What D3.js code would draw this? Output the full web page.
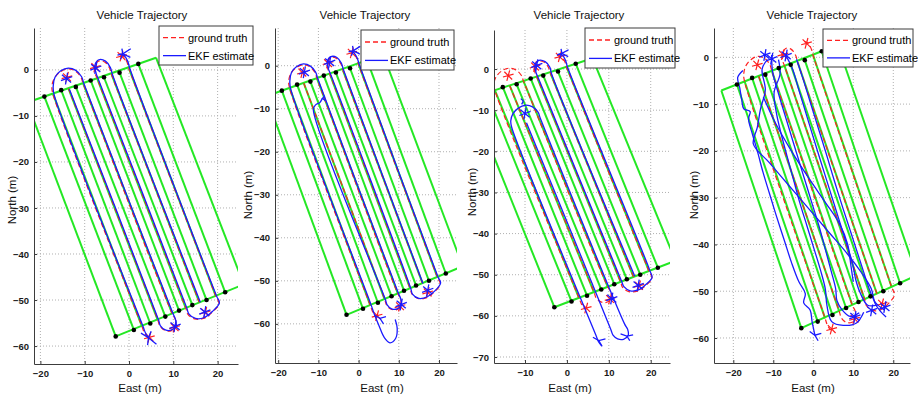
<!DOCTYPE html>
<html>
<head>
<meta charset="utf-8">
<title>Vehicle Trajectory</title>
<script src="https://cdn.jsdelivr.net/npm/d3@7"></script>
<style>
  body { margin: 0; background: #fff; }
  svg { display: block; font-family: "Liberation Sans", Arial, sans-serif; }
</style>
</head>
<body>
<svg id="chart" width="918" height="399"></svg>
<script>
// ---- data (East, North in metres) ----

const eastTicks = [-20, -10, 0, 10, 20];
const northTicks = [0, -10, -20, -30, -40, -50, -60, -70];

// headlands and field edges [E1, N1, E2, N2]
const fieldEdges = [
  [-23.0, -7.1, 6.1, 2.64],
  [-3.0, -57.9, 25.9, -46.6],
  [-23.0, -7.1, -3.0, -57.9],
  [6.1, 2.64, 25.9, -46.6]
];

// crop rows [E_top, N_top, E_bottom, N_bottom]
const rowLines = [
  [-19.1, -5.8, 1.1, -56.5],
  [-17.2, -5.1, 2.95, -55.8],
  [-15.3, -4.4, 4.8, -55.1],
  [-13.65, -4.05, 6.5, -54.35],
  [-12.0, -3.7, 8.2, -53.6],
  [-10.33, -3.0, 9.75, -52.95],
  [-8.65, -2.3, 11.3, -52.3],
  [-7.15, -1.95, 12.8, -51.7],
  [-5.65, -1.6, 14.3, -51.1],
  [-3.89, -1.1, 15.9, -50.55],
  [-2.13, -0.6, 17.5, -50.0],
  [-0.02, 0.35, 19.6, -49.15],
  [2.1, 1.3, 21.7, -48.3]
];

const topDots = [[-19.1, -5.8], [-15.3, -4.4], [-12.0, -3.7], [-8.65, -2.3], [-5.65, -1.6], [-2.13, -0.6], [2.1, 1.3]];
const bottomDots = [[-3.0, -57.9], [1.1, -56.5], [4.8, -55.1], [8.2, -53.6], [11.3, -52.3], [14.3, -51.1], [17.5, -50.0], [21.7, -48.3]];

// ground truth path (same run in all four plots)
const truthA = [
  [-13.65, -4.05], [6.5, -54.35], [7.0, -55.7], [8.1, -56.6], [9.5, -56.7], [10.6, -55.8], [10.5, -54.3],
  [9.75, -52.95], [-10.33, -3.0], [-10.9, -1.5], [-12.2, -0.2], [-13.9, 0.2], [-15.6, -0.5], [-16.9, -1.9],
  [-17.4, -3.6], [-17.2, -5.1], [2.95, -55.8], [3.5, -57.2], [4.3, -58.3]
];
const truthB = [
  [15.9, -50.55], [-3.89, -1.1], [-4.4, 0.4], [-5.5, 1.7], [-6.9, 1.9], [-7.8, 0.7], [-7.6, -0.9],
  [-7.15, -1.95], [12.8, -51.7], [13.3, -53.1], [14.8, -54.1], [16.8, -54.0], [18.7, -52.7], [20.3, -50.8],
  [19.6, -49.15], [-0.02, 0.35], [-0.5, 1.8], [-1.3, 3.0], [-2.3, 3.4]
];
const truthStars = [[-14.0, -1.6], [-7.6, 0.6], [-1.7, 3.0], [4.6, -58.1], [10.3, -55.9], [17.2, -52.7]];

// EKF estimate, plot 1
const ekf1A = [
  [-13.45, -4.2], [6.65, -54.3], [7.1, -55.6], [8.2, -56.5], [9.6, -56.5], [10.6, -55.6], [10.45, -54.1],
  [9.9, -52.9], [-10.15, -3.05], [-10.7, -1.5], [-12.0, -0.1], [-13.7, 0.4], [-15.4, -0.2], [-16.7, -1.6],
  [-17.1, -3.5], [-16.95, -5.2], [3.15, -55.7], [3.7, -57.1], [4.4, -58.2]
];
const ekf1B = [
  [16.1, -50.5], [-3.7, -1.1], [-4.2, 0.5], [-5.3, 1.9], [-6.8, 2.2], [-7.7, 1.0], [-7.4, -0.8],
  [-6.95, -1.95], [13.0, -51.6], [13.5, -53.0], [15.0, -54.0], [17.0, -53.8], [18.8, -52.5], [20.4, -50.6],
  [19.75, -49.1], [0.15, 0.4], [-0.3, 1.9], [-1.1, 3.1], [-2.1, 3.5]
];
const ekf1Stars = [[-14.1, -1.9], [-7.5, 0.4], [10.4, -55.7], [17.1, -52.6]];
const ekf1Tails = [
  [[-2.6, 3.2], [-1.4, 3.5], [0.4, 4.6]], [[-1.4, 3.5], [0.3, 2.7]], [[-1.6, 4.6], [-1.4, 3.5], [-1.9, 2.3]],
  [[2.7, -57.2], [4.4, -58.2], [6.2, -59.6]], [[4.4, -58.2], [5.0, -56.8]], [[4.4, -58.2], [4.2, -59.8]]
];

// EKF estimate, plot 2
const ekf2A = [
  [-9.0, -7.6], [-9.7, -8.6], [-10.7, -9.1], [-11.25, -10.2], [6.65, -54.3], [7.1, -55.6], [8.2, -56.5],
  [9.6, -56.5], [10.6, -55.6], [10.45, -54.1], [9.9, -52.9], [-10.15, -3.05], [-10.7, -1.5], [-12.0, -0.1],
  [-13.7, 0.4], [-15.4, -0.2], [-16.7, -1.6], [-17.1, -3.5], [-16.95, -5.2], [3.15, -55.7], [3.8, -57.5],
  [5.1, -60.5], [6.4, -63.2], [7.8, -64.4], [9.2, -63.4], [9.6, -61.0], [9.1, -59.0]
];
const ekf2B = [
  [16.0, -50.6], [-3.75, -1.0], [-4.3, 0.6], [-5.4, 1.9], [-6.9, 2.1], [-7.8, 0.9], [-7.5, -0.8],
  [-7.0, -1.9], [12.95, -51.7], [13.4, -53.1], [15.0, -54.1], [17.1, -53.7], [18.9, -52.4], [20.4, -50.5],
  [19.7, -49.0], [0.1, 0.45], [-0.4, 1.9], [-1.2, 3.0], [-2.2, 3.4]
];
const ekf2Stars = [[-13.5, -1.5], [-7.2, 0.8], [10.6, -55.5], [17.2, -52.2]];
const ekf2Tails = [
  [[-2.5, 3.2], [-1.3, 3.5], [0.4, 4.5]], [[-1.3, 3.5], [0.3, 2.7]], [[-1.5, 4.6], [-1.3, 3.5], [-1.8, 2.3]],
  [[4.0, -58.0], [5.3, -58.7], [6.8, -58.3]], [[5.3, -58.7], [6.2, -60.0]],
  [[-8.4, -7.0], [-9.0, -7.6], [-8.3, -8.1]]
];

// EKF estimate, plot 3
const ekf3A = [
  [-9.65, -13.05], [10.5, -63.35], [11.0, -64.7], [12.1, -65.6], [13.5, -65.7], [14.6, -64.8], [14.5, -63.3],
  [13.75, -61.95], [-6.33, -12.0], [-6.9, -10.5], [-8.2, -9.2], [-9.9, -8.8], [-11.6, -9.5], [-12.9, -10.9],
  [-13.4, -12.6], [-13.2, -14.1], [6.95, -64.8], [7.5, -66.2], [8.3, -67.3]
];
const ekf3B = [
  [16.2, -50.4], [-3.65, -1.2], [-4.1, 0.5], [-5.2, 1.8], [-6.7, 2.1], [-7.6, 0.9], [-7.35, -0.9],
  [-6.9, -2.0], [13.05, -51.6], [13.6, -52.9], [15.1, -53.9], [17.0, -53.7], [18.8, -52.4], [20.3, -50.7],
  [19.8, -49.0], [0.2, 0.3], [-0.3, 2.0], [-1.0, 3.3], [-2.0, 3.7]
];
const ekf3Stars = [[-10.0, -10.8], [-7.2, 0.9], [10.7, -55.8], [17.0, -52.6]];
const ekf3Tails = [
  [[-2.4, 3.4], [-1.2, 3.8], [0.4, 4.7]], [[-1.2, 3.8], [0.3, 3.0]], [[-1.4, 4.9], [-1.2, 3.8], [-1.7, 2.6]],
  [[6.2, -65.2], [7.6, -66.0], [9.2, -65.6]], [[7.6, -66.0], [8.4, -67.4]],
  [[12.8, -64.4], [14.3, -64.9], [15.8, -64.6]], [[14.3, -64.9], [15.0, -66.0]],
  [[-11.0, -7.2], [-10.4, -7.8], [-10.8, -8.6]]
];

// EKF estimate, plot 4 (diverging filter)
const ekf4S1 = [
  [-17.6, -2.8], [-18.9, -4.3], [-18.4, -6.5], [-17.9, -9.0], [-17.4, -11.0], [-15.8, -11.6], [-16.2, -13.2],
  [-15.2, -16.5], [-14.0, -20.0], [-12.6, -24.5], [-11.0, -29.0], [-9.2, -34.0], [-7.3, -39.0], [-5.4, -44.0],
  [-3.6, -48.0], [-2.0, -50.5], [-2.4, -52.5], [-0.8, -54.0], [-0.3, -56.5], [0.4, -59.4]
];
const ekf4S2 = [
  [-11.5, -0.5], [-12.8, -2.5], [-12.0, -7.0], [-13.2, -11.0], [-14.0, -15.0], [-15.0, -18.5], [-11.0, -22.5],
  [-6.0, -27.5], [-1.0, -32.5], [4.0, -37.5], [8.5, -42.0], [12.0, -46.0], [14.5, -49.5], [15.4, -52.5],
  [16.8, -54.3], [18.2, -55.5]
];
const ekf4S3 = [
  [-10.4, 0.5], [-10.2, -3.0], [-8.8, -7.5], [-7.2, -12.0], [-5.6, -16.5], [-4.0, -21.0], [-2.2, -26.0],
  [-0.4, -31.0], [1.4, -36.0], [3.0, -41.0], [4.4, -45.5], [5.6, -49.5], [5.9, -52.0], [7.2, -54.0],
  [9.2, -55.4], [11.5, -54.6]
];
const ekf4S4 = [
  [-8.7, -0.5], [-8.3, -3.5], [-9.8, -7.5], [-9.2, -12.0], [-8.0, -16.5], [-6.6, -21.0], [-5.0, -26.0],
  [-3.4, -31.0], [-1.6, -36.0], [0.2, -41.0], [1.8, -45.5], [3.0, -49.5], [3.4, -53.0], [4.6, -56.5],
  [7.5, -57.3], [10.8, -56.8], [12.6, -54.5]
];
const ekf4S5 = [
  [-6.8, 0.3], [-5.2, -2.5], [-3.6, -7.0], [-2.0, -11.5], [-0.4, -16.0], [1.4, -21.0], [3.6, -27.0],
  [5.8, -33.0], [8.0, -39.0], [9.8, -44.0], [10.6, -47.5], [11.8, -50.5], [13.6, -53.0], [16.0, -53.0]
];
const ekf4S6 = [
  [-4.2, -0.4], [-2.6, -4.5], [-0.8, -9.5], [1.2, -15.0], [3.2, -20.5], [5.3, -26.5], [7.5, -32.5],
  [9.6, -38.0], [11.5, -43.0], [13.0, -47.0], [14.2, -50.0], [15.6, -52.5], [17.8, -54.0]
];
const ekf4S7 = [
  [-12.5, -8.5], [-9.5, -14.0], [-5.5, -20.0], [-1.0, -26.0], [3.0, -31.0], [6.5, -35.5], [8.6, -40.0],
  [9.4, -44.5], [10.0, -48.0]
];
const ekf4Stars = [[-12.1, 0.5], [-10.4, -0.3], [-6.8, 0.4], [10.4, -55.5], [14.6, -54.1], [17.9, -53.4]];
const ekf4Tails = [
  [[-0.9, -58.6], [0.4, -59.4], [2.0, -59.0]], [[0.4, -59.4], [1.2, -60.6]]
];

// ---- layout of the four plots (pixels) ----
const panels = [
  { left: 34, right: 238, top: 28, bottom: 364, east: [-21.44, 24.6], north: [-63.9, 9.1],
    titleX: 142, northX: 12, northY: 200, eastX: 140,
    legend: { x: 159, y: 26, w: 94, h: 39 },
    ekf: [ekf1A, ekf1B], stars: ekf1Stars, tails: ekf1Tails },
  { left: 275, right: 457, top: 28, bottom: 363, east: [-20.8, 24.48], north: [-69.1, 8.76],
    titleX: 365, northX: 248, northY: 195, eastX: 382,
    legend: { x: 361, y: 30, w: 93, h: 40 },
    ekf: [ekf2A, ekf2B], stars: ekf2Stars, tails: ekf2Tails },
  { left: 494, right: 670, top: 30, bottom: 363, east: [-17.4, 24.6], north: [-71.46, 9.49],
    titleX: 579, northX: 472, northY: 192, eastX: 570,
    legend: { x: 585, y: 28, w: 90, h: 40 },
    ekf: [ekf3A, ekf3B], stars: ekf3Stars, tails: ekf3Tails },
  { left: 714, right: 910, top: 28, bottom: 363, east: [-24.83, 24.18], north: [-65.35, 6.27],
    titleX: 812, northX: 694, northY: 195, eastX: 813,
    legend: { x: 823, y: 29, w: 90, h: 38 },
    ekf: [ekf4S1, ekf4S2, ekf4S3, ekf4S4, ekf4S5, ekf4S6, ekf4S7], stars: ekf4Stars, tails: ekf4Tails }
];

const GREEN = '#24e824', BLUE = '#1a1aff', RED = '#ff2020', AXIS = '#3c3c3c';

const svg = d3.select('#chart');
const defs = svg.append('defs');
const asterisk = d3.symbolAsterisk || d3.symbolCross;

panels.forEach((p, i) => {
  const x = d3.scaleLinear().domain(p.east).range([p.left, p.right]);
  const y = d3.scaleLinear().domain(p.north).range([p.bottom, p.top]);
  const path = d3.line().x(d => x(d[0])).y(d => y(d[1])).curve(d3.curveCatmullRom.alpha(0.5));
  const straight = d3.line().x(d => x(d[0])).y(d => y(d[1]));

  defs.append('clipPath').attr('id', 'clip' + i)
    .append('rect')
    .attr('x', p.left).attr('y', p.top)
    .attr('width', p.right - p.left).attr('height', p.bottom - p.top);

  const g = svg.append('g').attr('class', 'panel');
  const plot = g.append('g').attr('clip-path', `url(#clip${i})`);

  const ex = eastTicks.filter(t => t >= p.east[0] && t <= p.east[1]);
  const ny = northTicks.filter(t => t >= p.north[0] && t <= p.north[1]);

  // dotted grid
  plot.selectAll('line.gx').data(ex).join('line')
    .attr('x1', d => x(d)).attr('x2', d => x(d))
    .attr('y1', p.top).attr('y2', p.bottom)
    .attr('stroke', '#b0b0b0').attr('stroke-width', 1).attr('stroke-dasharray', '1,2');
  plot.selectAll('line.gy').data(ny).join('line')
    .attr('x1', p.left).attr('x2', p.right)
    .attr('y1', d => y(d)).attr('y2', d => y(d))
    .attr('stroke', '#b0b0b0').attr('stroke-width', 1).attr('stroke-dasharray', '1,2');

  // field
  plot.append('g').selectAll('line').data(fieldEdges.concat(rowLines)).join('line')
    .attr('x1', d => x(d[0])).attr('y1', d => y(d[1]))
    .attr('x2', d => x(d[2])).attr('y2', d => y(d[3]))
    .attr('stroke', GREEN).attr('stroke-width', 2);

  // ground truth
  plot.append('g').selectAll('path').data([truthA, truthB]).join('path')
    .attr('d', path).attr('fill', 'none')
    .attr('stroke', RED).attr('stroke-width', 1.2).attr('stroke-dasharray', '5,3');
  plot.append('g').selectAll('path').data(truthStars).join('path')
    .attr('transform', d => `translate(${x(d[0])},${y(d[1])}) rotate(15)`)
    .attr('d', d3.symbol(asterisk, 85)).attr('fill', 'none')
    .attr('stroke', RED).attr('stroke-width', 1.2);

  // EKF estimate
  plot.append('g').selectAll('path').data(p.ekf).join('path')
    .attr('d', path).attr('fill', 'none')
    .attr('stroke', BLUE).attr('stroke-width', 1.3);
  plot.append('g').selectAll('path').data(p.tails).join('path')
    .attr('d', straight).attr('fill', 'none')
    .attr('stroke', BLUE).attr('stroke-width', 1.3);
  plot.append('g').selectAll('path').data(p.stars).join('path')
    .attr('transform', d => `translate(${x(d[0])},${y(d[1])}) rotate(10)`)
    .attr('d', d3.symbol(asterisk, 100)).attr('fill', 'none')
    .attr('stroke', BLUE).attr('stroke-width', 1.3);

  // row-end markers
  plot.append('g').selectAll('circle').data(topDots.concat(bottomDots)).join('circle')
    .attr('cx', d => x(d[0])).attr('cy', d => y(d[1])).attr('r', 2.3).attr('fill', '#000');

  // axes (left and bottom only, ticks inward)
  const xAxis = g.append('g').attr('transform', `translate(0,${p.bottom})`)
    .call(d3.axisBottom(x).tickValues(ex).tickSizeInner(-3).tickSizeOuter(0).tickPadding(6));
  const yAxis = g.append('g').attr('transform', `translate(${p.left},0)`)
    .call(d3.axisLeft(y).tickValues(ny).tickSizeInner(-3).tickSizeOuter(0).tickPadding(5));
  [xAxis, yAxis].forEach(a => {
    a.select('.domain').attr('stroke', AXIS);
    a.selectAll('.tick line').attr('stroke', AXIS);
    a.selectAll('.tick text').attr('fill', '#1a1a1a')
      .style('font-size', '9.5px').style('font-weight', 'bold')
      .style('font-family', '"Liberation Sans", Arial, sans-serif');
  });

  // titles and labels
  g.append('text').attr('x', p.titleX).attr('y', 19).attr('text-anchor', 'middle')
    .style('font-size', '11.5px').attr('fill', '#111').text('Vehicle Trajectory');
  g.append('text').attr('x', p.eastX).attr('y', 392).attr('text-anchor', 'middle')
    .style('font-size', '11.5px').attr('fill', '#111').text('East (m)');
  g.append('text').attr('transform', `translate(${p.northX + 4},${p.northY}) rotate(-90)`)
    .attr('text-anchor', 'middle')
    .style('font-size', '11.5px').attr('fill', '#111').text('North (m)');

  // legend
  const L = p.legend;
  const lg = g.append('g');
  lg.append('rect').attr('x', L.x).attr('y', L.y).attr('width', L.w).attr('height', L.h)
    .attr('fill', '#fff').attr('stroke', AXIS).attr('stroke-width', 1);
  const items = [
    { label: 'ground truth', color: RED, dash: '5,3' },
    { label: 'EKF estimate', color: BLUE, dash: null }
  ];
  items.forEach((it, k) => {
    const cy = L.y + L.h * (k === 0 ? 0.3 : 0.76);
    lg.append('line').attr('x1', L.x + 4).attr('x2', L.x + 27).attr('y1', cy).attr('y2', cy)
      .attr('stroke', it.color).attr('stroke-width', 1.3).attr('stroke-dasharray', it.dash);
    lg.append('text').attr('x', L.x + 29).attr('y', cy + 4)
      .style('font-size', '11px').attr('fill', '#000').text(it.label);
  });
});
</script>
</body>
</html>
